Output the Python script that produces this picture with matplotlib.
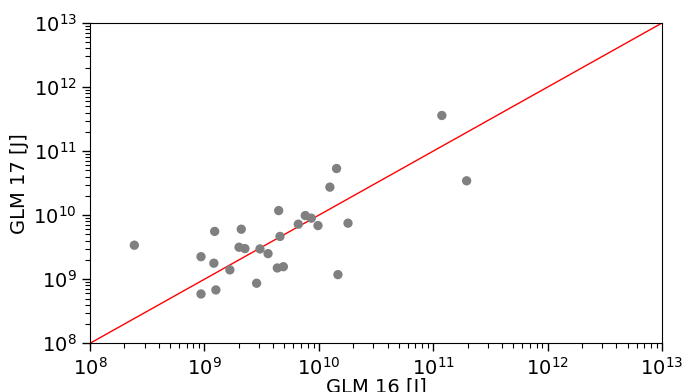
import matplotlib
matplotlib.use("Agg")
import matplotlib.pyplot as plt
import numpy as np

glm16 = [2.44e8, 9.34e8, 1.23e9, 1.21e9, 9.34e8, 1.26e9, 1.67e9, 2.10e9, 2.01e9,
         2.26e9, 2.86e9, 3.06e9, 3.60e9, 4.46e9, 4.58e9, 4.34e9, 4.90e9, 6.62e9,
         7.62e9, 8.60e9, 9.84e9, 1.80e10, 1.47e10, 1.25e10, 1.43e10, 1.19e11, 1.96e11]
glm17 = [3.40e9, 2.25e9, 5.58e9, 1.78e9, 5.89e8, 6.81e8, 1.40e9, 6.04e9, 3.16e9,
         3.01e9, 8.66e8, 2.97e9, 2.51e9, 1.18e10, 4.66e9, 1.50e9, 1.57e9, 7.23e9,
         9.86e9, 8.98e9, 6.88e9, 7.50e9, 1.18e9, 2.74e10, 5.35e10, 3.60e11, 3.44e10]
limits = [1e8, 1e13]

fig = plt.figure(figsize=(6.86, 3.92), dpi=100)
ax = fig.add_axes([90/686, (392-343.3)/392, 572/686, 320.3/392])
ax.plot(limits, limits, color="red", lw=1.0, zorder=1)
ax.scatter(glm16, glm17, s=45, color="#808080", edgecolors="none", zorder=2)
ax.set_xscale("log")
ax.set_yscale("log")
ax.set_xlim(limits)
ax.set_ylim(limits)
ax.tick_params(which="major", length=6, width=1, labelsize=14, top=False, right=False)
ax.tick_params(which="minor", length=3.5, width=0.8, top=False, right=False)
ax.set_xlabel("GLM 16 [J]", fontsize=14, labelpad=0)
ax.set_ylabel("GLM 17 [J]", fontsize=14)
ax.yaxis.set_label_coords(-0.107, 0.5)
fig.savefig("out.png", dpi=100)
